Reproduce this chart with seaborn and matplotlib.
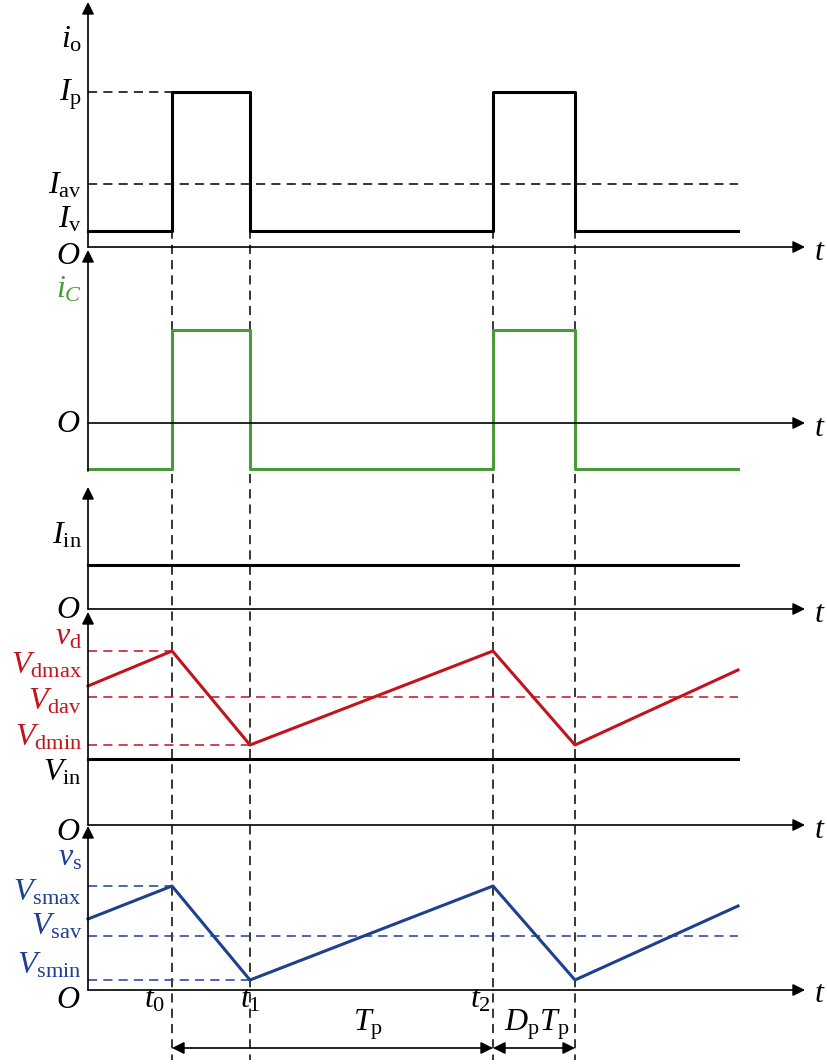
import matplotlib
matplotlib.use("Agg")
import matplotlib.pyplot as plt
import seaborn as sns

plt.rcParams["mathtext.fontset"] = "custom"
plt.rcParams["mathtext.rm"] = "Liberation Serif"
plt.rcParams["mathtext.it"] = "Liberation Serif:italic"
plt.rcParams["font.family"] = "Liberation Serif"

# time instants (pixel scale of the diagram)
X0, T0, T1, T2, T3, XEND, XARROW = 88, 172, 250, 493, 575, 738, 805

# panel levels
IO_O, IO_V, IO_AV, IO_P = 247, 231, 184, 92
IC_O, IC_HI, IC_LO = 423, 330, 469
IN_O, IN_LVL = 609, 565
VD_O, VD_MAX, VD_AV, VD_MIN, VIN, VD_START, VD_END = 825, 651, 697, 745, 759, 686, 670
VS_O, VS_MAX, VS_AV, VS_MIN, VS_START, VS_END = 990, 886, 936, 980, 919, 906

GREEN, RED, BLUE = "#4a9a3a", "#c0141e", "#1f3f8f"

io_x = [X0, T0, T0, T1, T1, T2, T2, T3, T3, XEND]
io_y = [IO_V, IO_V, IO_P, IO_P, IO_V, IO_V, IO_P, IO_P, IO_V, IO_V]
ic_y = [IC_LO, IC_LO, IC_HI, IC_HI, IC_LO, IC_LO, IC_HI, IC_HI, IC_LO, IC_LO]
tri_x = [X0, T0, T1, T2, T3, XEND]
vd_y = [VD_START, VD_MAX, VD_MIN, VD_MAX, VD_MIN, VD_END]
vs_y = [VS_START, VS_MAX, VS_MIN, VS_MAX, VS_MIN, VS_END]

fig = plt.figure(figsize=(8.28, 10.64), dpi=100)
ax = fig.add_axes([0, 0, 1, 1])
ax.set_xlim(0, 828)
ax.set_ylim(1064, 0)
ax.axis("off")

def line(x, y, color, lw=2.2):
    sns.lineplot(x=x, y=y, ax=ax, color=color, lw=lw, sort=False, estimator=None)

def arrow(x1, y1, x2, y2, both=False):
    ax.annotate("", xy=(x2, y2), xytext=(x1, y1),
                arrowprops=dict(arrowstyle="<|-|>" if both else "-|>", color="black",
                                lw=1.2, mutation_scale=18, shrinkA=0, shrinkB=0))

# axes
for o, top, bottom in [(IO_O, 2, IO_O), (IC_O, 250, IC_LO + 2), (IN_O, 487, IN_O),
                       (VD_O, 612, VD_O), (VS_O, 826, VS_O)]:
    arrow(X0, bottom, X0, top)
    arrow(X0, o, XARROW, o)
    ax.text(820, o + 5, "$t$", fontsize=23, ha="center", va="center")

# dashed guides
dash = dict(ls=(0, (6, 4)), lw=1.1)
for tx in [T0, T1, T2, T3]:
    ax.plot([tx, tx], [IO_P, 1060], color="black", **dash)
ax.plot([X0, T0], [IO_P, IO_P], color="black", **dash)
ax.plot([X0, XEND], [IO_AV, IO_AV], color="black", **dash)
ax.plot([X0, T0], [VD_MAX, VD_MAX], color=RED, **dash)
ax.plot([X0, XEND], [VD_AV, VD_AV], color=RED, **dash)
ax.plot([X0, T1], [VD_MIN, VD_MIN], color=RED, **dash)
ax.plot([X0, T0], [VS_MAX, VS_MAX], color=BLUE, **dash)
ax.plot([X0, XEND], [VS_AV, VS_AV], color=BLUE, **dash)
ax.plot([X0, T1], [VS_MIN, VS_MIN], color=BLUE, **dash)

# signals
line(io_x, io_y, "black")
line(io_x, ic_y, GREEN)
line([X0, XEND], [IN_LVL, IN_LVL], "black")
line(tri_x, vd_y, RED)
line([X0, XEND], [VIN, VIN], "black")
line(tri_x, vs_y, BLUE)

# period arrows
arrow(T0, 1048, T2, 1048, both=True)
arrow(T2, 1048, T3, 1048, both=True)

fs = 23
def lab(x, y, s, c="black", ha="right"):
    ax.text(x, y, s, fontsize=fs, color=c, ha=ha, va="center")

lab(82, 40, r"$i_{\rm o}$")
lab(82, 95, r"$I_{\rm p}$")
lab(82, 186, r"$I_{\rm av}$")
lab(82, 220, r"$I_{\rm v}$")
lab(80, 256, r"$O$")
lab(82, 290, r"$i_{C}$", GREEN)
lab(80, 425, r"$O$")
lab(82, 536, r"$I_{\rm in}$")
lab(80, 610, r"$O$")
lab(82, 637, r"$v_{\rm d}$", RED)
lab(82, 666, r"$V_{\rm dmax}$", RED)
lab(82, 702, r"$V_{\rm dav}$", RED)
lab(82, 738, r"$V_{\rm dmin}$", RED)
lab(82, 773, r"$V_{\rm in}$")
lab(80, 832, r"$O$")
lab(82, 858, r"$v_{\rm s}$", BLUE)
lab(82, 893, r"$V_{\rm smax}$", BLUE)
lab(82, 927, r"$V_{\rm sav}$", BLUE)
lab(82, 966, r"$V_{\rm smin}$", BLUE)
lab(80, 1000, r"$O$")
ax.text(155, 1000, r"$t_0$", fontsize=fs, ha="center", va="center")
ax.text(250, 1000, r"$t_1$", fontsize=fs, ha="center", va="center")
ax.text(480, 1000, r"$t_2$", fontsize=fs, ha="center", va="center")
ax.text(368, 1025, r"$T_{\rm p}$", fontsize=fs, ha="center", va="center")
ax.text(537, 1025, r"$D_{\rm p}T_{\rm p}$", fontsize=fs, ha="center", va="center")

fig.savefig("out.png", dpi=100, facecolor="white")
